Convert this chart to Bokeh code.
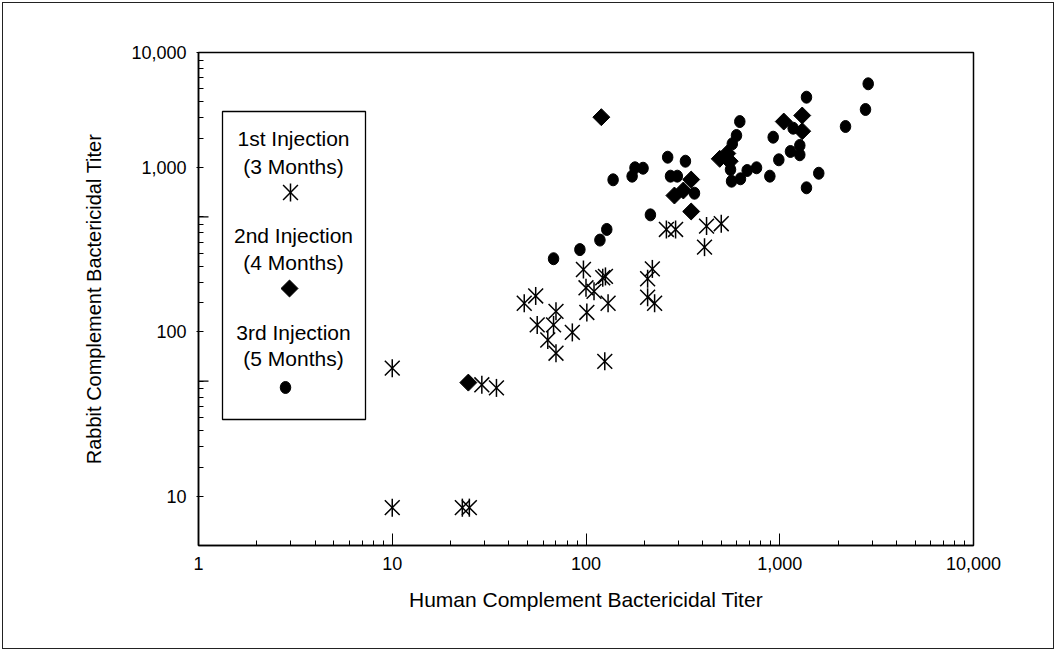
import numpy as np
from bokeh.plotting import figure
from bokeh.models import FixedTicker, BoxAnnotation, Label, Range1d, NumeralTickFormatter, ColumnDataSource
from bokeh.embed import file_html
from bokeh.resources import INLINE

# ---- data ----
# 1st injection (3 months): asterisks
inj1_human = [10, 10, 23, 25, 29, 34.5, 48, 55, 70, 68, 56, 63.5, 70, 85, 97, 100, 110, 122, 126,
              101, 130, 125, 220, 208, 208, 226, 260, 290, 419, 499, 409]
inj1_rabbit = [60, 8.5, 8.5, 8.5, 47.5, 45.5, 149, 165, 133, 110, 110, 89, 74, 99, 239, 185, 176, 213, 217,
               131, 149, 66, 241, 210, 162, 149, 419, 419, 439, 454, 327]
# 2nd injection (4 months): diamonds
inj2_human = [24.7, 120, 349, 286, 318, 349, 1306, 1049, 1306, 490, 552, 536]
inj2_rabbit = [49, 2020, 843, 674, 723, 539, 2068, 1900, 1660, 1127, 1090, 1215]
# 3rd injection (5 months): dots
inj3_human = [68, 93, 118, 128, 215, 138, 173, 179, 197, 264, 326, 273, 296, 363, 2861, 1374, 2771,
              622, 2185, 925, 598, 569, 1173, 1269, 1136, 1269, 989, 759, 679, 889, 627, 564, 557, 1590, 1374]
inj3_rabbit = [278, 316, 361, 419, 514, 840, 884, 994, 988, 1153, 1090, 884, 884, 696, 3225, 2673, 2250,
               1900, 1773, 1526, 1563, 1391, 1731, 1359, 1249, 1193, 1112, 994, 957, 884, 852, 824, 970, 921, 751]

x_ticks = [1, 10, 100, 1000, 10000]
y_ticks = [10, 100, 1000, 5000]
y_tick_labels = {10: "10", 100: "100", 1000: "1,000", 5000: "10,000"}
y_long_ticks = [50, 500]
legend_lines = [("1st Injection", "(3 Months)"), ("2nd Injection", "(4 Months)"), ("3rd Injection", "(5 Months)")]

FONT = "Liberation Sans"

# page-pixel -> data helpers (layout only)
X_LEFT, X_DEC = 198.0, 193.75
Y_BOTTOM, Y_DEC = 545.0, 164.33
def px_x(px):
    return 10 ** ((px - X_LEFT) / X_DEC)
def px_y(py):
    return 5 * 10 ** ((Y_BOTTOM - py) / Y_DEC)

p = figure(width=1052, height=647, x_axis_type="log", y_axis_type="log",
           x_range=Range1d(1, 10000), y_range=Range1d(5, 5000),
           output_backend="svg", toolbar_location=None,
           min_border_left=195, min_border_right=82, min_border_top=49, min_border_bottom=105,
           background_fill_color="white", border_fill_color="white")
p.styles = {"margin": "2px", "border": "1px solid #222"}
p.grid.visible = False
p.outline_line_color = "black"
p.outline_line_width = 1.5

# x axis
xa = p.xaxis[0]
xa.ticker = FixedTicker(ticks=x_ticks,
                        minor_ticks=[k * 10 ** n for n in range(0, 4) for k in range(2, 10)])
xa.formatter = NumeralTickFormatter(format="0,0")
xa.major_tick_in = 12
xa.major_tick_out = 0
xa.minor_tick_in = 5
xa.minor_tick_out = 0
xa.axis_line_width = 1.5
xa.axis_line_color = "black"
xa.major_tick_line_color = "black"
xa.minor_tick_line_color = "black"
xa.major_label_text_font = FONT
xa.major_label_text_font_size = "18px"
xa.major_label_text_color = "black"
xa.major_label_standoff = 11
xa.axis_label = "Human Complement Bactericidal Titer"
xa.axis_label_text_font = FONT
xa.axis_label_text_font_size = "21px"
xa.axis_label_text_font_style = "normal"
xa.axis_label_text_color = "black"
xa.axis_label_standoff = 15

# y axis
ya = p.yaxis[0]
minor_y = sorted(set(k * 5 * 10 ** n for n in range(0, 3) for k in range(1, 11)) - set(y_ticks))
ya.ticker = FixedTicker(ticks=y_ticks, minor_ticks=minor_y)
ya.formatter = NumeralTickFormatter(format="0,0")
ya.major_label_overrides = y_tick_labels
ya.major_tick_in = 5
ya.major_tick_out = 2
ya.minor_tick_in = 5
ya.minor_tick_out = 0
ya.axis_line_width = 1.5
ya.axis_line_color = "black"
ya.major_tick_line_color = "black"
ya.minor_tick_line_color = "black"
ya.major_label_text_font = FONT
ya.major_label_text_font_size = "18px"
ya.major_label_text_color = "black"
ya.major_label_standoff = 10
ya.axis_label = "Rabbit Complement Bactericidal Titer"
ya.axis_label_text_font = FONT
ya.axis_label_text_font_size = "20px"
ya.axis_label_text_font_style = "normal"
ya.axis_label_text_color = "black"
ya.axis_label_standoff = 23

# longer inside ticks of the y axis
p.segment(x0=[1] * len(y_long_ticks), x1=[px_x(208)] * len(y_long_ticks),
          y0=y_long_ticks, y1=y_long_ticks, line_color="black", line_width=1.2)

# ---- data marks ----
s1 = ColumnDataSource(dict(x=inj1_human, y=inj1_rabbit))
s2 = ColumnDataSource(dict(x=inj2_human, y=inj2_rabbit))
s3 = ColumnDataSource(dict(x=inj3_human, y=inj3_rabbit))

def star(src):
    p.scatter("x", "y", source=src, marker="x", size=21, line_color="black", line_width=1.5)
    p.scatter("x", "y", source=src, marker="dash", angle=np.pi / 2, size=18,
              line_color="black", line_width=1.5)

def diamond(src):
    p.scatter("x", "y", source=src, marker="square", angle=np.pi / 4, size=12,
              fill_color="black", line_color="black")

def dot(src):
    p.ellipse("x", "y", source=src, width=10.5, height=12, width_units="screen",
              height_units="screen", fill_color="black", line_color="black")

star(s1)
diamond(s2)
dot(s3)

# ---- custom legend ----
p.add_layout(BoxAnnotation(left=px_x(222), right=px_x(365), top=px_y(111), bottom=px_y(419),
                           level="underlay", fill_color="white", fill_alpha=1.0,
                           line_color="black", line_alpha=1.0, line_width=1.3))
text_rows = [(138, 166), (235, 262), (332, 358)]
for (l1, l2), (r1, r2) in zip(legend_lines, text_rows):
    for txt, py in ((l1, r1), (l2, r2)):
        p.add_layout(Label(x=px_x(293), y=px_y(py), text=txt, text_align="center",
                           text_baseline="middle", text_font=FONT, text_font_size="21px",
                           text_color="black"))
star(ColumnDataSource(dict(x=[px_x(290)], y=[px_y(192)])))
diamond(ColumnDataSource(dict(x=[px_x(289)], y=[px_y(288)])))
dot(ColumnDataSource(dict(x=[px_x(285)], y=[px_y(387)])))

open("out.html", "w").write(file_html(p, INLINE))
